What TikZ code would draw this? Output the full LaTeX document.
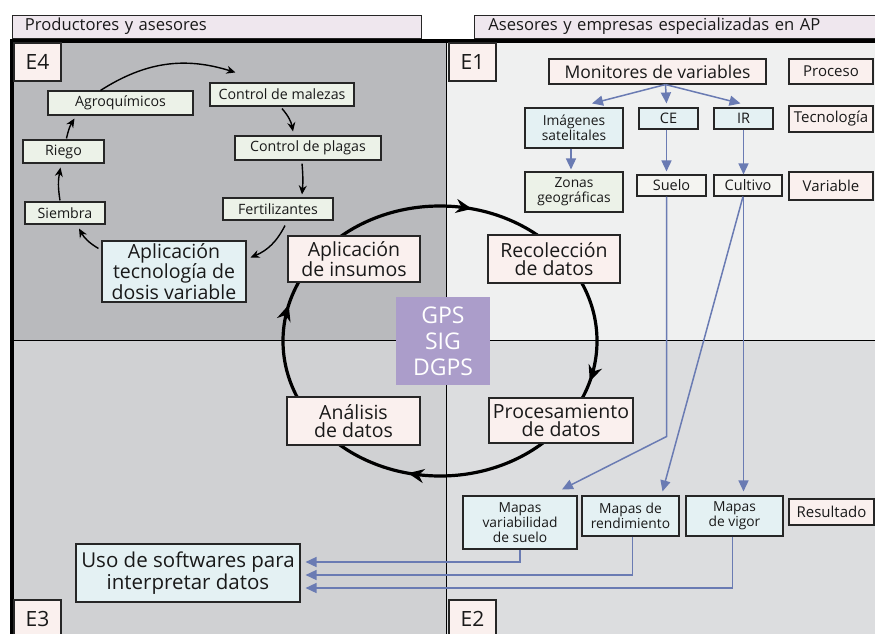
\documentclass[tikz,border=0pt]{standalone}
\usepackage{fontspec}
\setmainfont{Open Sans}
\usetikzlibrary{arrows.meta,decorations.markings}

\definecolor{headfill}{HTML}{EFE7EE}
\definecolor{darkq}{HTML}{B9BABD}
\definecolor{lightq}{HTML}{EFF0F0}
\definecolor{midq}{HTML}{D0D1D3}
\definecolor{paleq}{HTML}{DCDDDF}
\definecolor{pinkfill}{HTML}{FAF0EE}
\definecolor{cyanfill}{HTML}{E4F1F3}
\definecolor{greenfill}{HTML}{ECF2E8}
\definecolor{whitefill}{HTML}{F4F4F1}
\definecolor{gpsfill}{HTML}{AB9DCA}
\definecolor{linkblue}{HTML}{6A7BB3}

\tikzset{
  box/.style={draw=black!85, line width=1.1pt, inner sep=0pt, align=center, text=black!90},
  headbox/.style={box, line width=0.9pt, fill=headfill, anchor=west, minimum height=23pt, font=\fontsize{16.6}{17}\selectfont},
  tagbox/.style={box, fill=pinkfill, minimum width=47pt, minimum height=38pt, font=\fontsize{21}{21}\selectfont},
  smallbox/.style={box, fill=greenfill, minimum height=23pt, font=\fontsize{14.2}{14}\selectfont},
  stagebox/.style={box, fill=pinkfill, font=\fontsize{19.5}{18}\selectfont},
  techbox/.style={box, fill=cyanfill, font=\fontsize{13.8}{15}\selectfont},
  keybox/.style={box, fill=pinkfill, minimum width=84pt, font=\fontsize{15}{15}\selectfont},
  smallarrow/.style={->, >={Stealth[length=9pt,width=8pt]}, line width=1.4pt},
  bluelink/.style={->, >={Triangle[length=11pt,width=10pt]}, draw=linkblue, line width=1.5pt},
  bigloop/.style={line width=3.2pt, postaction={decorate}, decoration={markings,
    mark=at position 0.045 with {\arrow{Stealth[length=16pt,width=14pt]}},
    mark=at position 0.285 with {\arrow{Stealth[length=16pt,width=14pt]}},
    mark=at position 0.54 with {\arrow{Stealth[length=16pt,width=14pt]}},
    mark=at position 0.785 with {\arrow{Stealth[length=16pt,width=14pt]}}}}
}

\begin{document}
\begin{tikzpicture}[x=1pt, y=-1pt]
  \useasboundingbox (0,0) rectangle (875,634);

  % cuadrantes
  \fill[darkq] (12,40) rectangle (446,340);
  \fill[lightq] (446,40) rectangle (876,340);
  \fill[midq] (12,340) rectangle (446,635);
  \fill[paleq] (446,340) rectangle (876,635);
  \draw[line width=0.9pt] (446.5,40) -- (446.5,635);
  \draw[line width=0.9pt] (12,340) -- (876,340);
  \draw[line width=3.2pt] (12,635) -- (12,41) -- (876,41);

  \node (prodhead) [headbox, minimum width=409pt, text width=404pt, align=left] at (12,26.5) {\hspace*{10pt}Productores y asesores};
  \node (asehead) [headbox, minimum width=420pt, text width=412pt, align=left] at (474,26.5) {\hspace*{10pt}Asesores y empresas especializadas en AP};

  \node (e4) [tagbox] at (37.5,62) {E4};
  \node (e1) [tagbox] at (472.5,62) {E1};
  \node (e3) [tagbox] at (37.5,619) {E3};
  \node (e2) [tagbox] at (472.5,619) {E2};

  % ciclo central
  \node (gps) [fill=gpsfill, text=white, align=center, minimum width=94pt, minimum height=88pt,
    font=\fontsize{23}{26}\selectfont] at (443,341) {GPS\\SIG\\DGPS};
  \draw[bigloop] ([xshift=-3pt]gps.center) ellipse [x radius=157, y radius=135];

  \node (insumos) [stagebox, minimum width=132pt, minimum height=46pt] at (354,259) {Aplicación\\de insumos};
  \node (recol) [stagebox, minimum width=132pt, minimum height=48pt] at (554,259) {Recolección\\de datos};
  \node (proces) [stagebox, minimum width=144pt, minimum height=45pt] at (561,420.5) {Procesamiento\\de datos};
  \node (analisis) [stagebox, minimum width=133pt, minimum height=48pt] at (353.5,421) {Análisis\\de datos};

  % E4
  \node (agro) [smallbox, minimum width=145pt, minimum height=24pt] at (120.5,103) {Agroquímicos};
  \node (malezas) [smallbox, minimum width=144pt] at (282,94.5) {Control de malezas};
  \node (plagas) [smallbox, minimum width=146pt, minimum height=24pt] at (308,148) {Control de plagas};
  \node (fert) [smallbox, minimum width=110pt, minimum height=22pt] at (278,209) {Fertilizantes};
  \node (siembra) [smallbox, minimum width=80pt, minimum height=22pt] at (65,213) {Siembra};
  \node (riego) [smallbox, minimum width=81pt] at (63.5,151.5) {Riego};
  \node (apltec) [stagebox, fill=cyanfill, minimum width=144pt, minimum height=61pt] at (174,271.5) {Aplicación\\tecnología de\\dosis variable};

  \draw[smallarrow] ([xshift=-20pt]agro.north) to[bend left=25] ([xshift=26pt,yshift=10pt]malezas.north west);
  \draw[smallarrow] ([yshift=-2pt]malezas.south) to[bend left=15] ([xshift=-15pt,yshift=4pt]plagas.north);
  \draw[smallarrow] ([xshift=-6pt,yshift=-3pt]plagas.south) to[bend left=5] ([xshift=24pt,yshift=3pt]fert.north);
  \draw[smallarrow] ([xshift=7pt,yshift=-5pt]fert.south) to[bend left=20] ([xshift=4pt,yshift=14pt]apltec.east);
  \draw[smallarrow] ([xshift=-3pt,yshift=-8pt]apltec.north west) to[bend left=15] ([xshift=14pt,yshift=-4pt]siembra.south);
  \draw[smallarrow] ([xshift=-5pt,yshift=1pt]siembra.north) to[bend left=10] ([xshift=-3pt,yshift=-4pt]riego.south);
  \draw[smallarrow] ([xshift=3pt,yshift=1pt]riego.north) to[bend left=10] ([xshift=-46pt,yshift=-3pt]agro.south);

  % E1
  \node (monit) [stagebox, font=\fontsize{17.5}{17}\selectfont, minimum width=217pt, minimum height=25pt] at (657.5,71.5) {Monitores de variables};
  \node (proceso) [keybox, minimum height=25pt] at (831,71.5) {Proceso};
  \node (imag) [techbox, minimum width=98pt, minimum height=40pt] at (574,128) {Imágenes\\satelitales};
  \node (ce) [techbox, font=\fontsize{14.5}{14.5}\selectfont, minimum width=59pt, minimum height=21pt] at (668.5,118.5) {CE};
  \node (ir) [techbox, font=\fontsize{14.5}{14.5}\selectfont, minimum width=59pt, minimum height=21pt] at (743.5,118.5) {IR};
  \node (tecno) [keybox, minimum height=26pt] at (831,119) {Tecnología};
  \node (zonas) [techbox, fill=greenfill, minimum width=98pt, minimum height=40pt] at (574,192) {Zonas\\geográficas};
  \node (suelo) [techbox, fill=whitefill, font=\fontsize{14.5}{14.5}\selectfont, minimum width=69pt, minimum height=21pt] at (671.5,185.5) {Suelo};
  \node (cultivo) [techbox, fill=whitefill, font=\fontsize{14.5}{14.5}\selectfont, minimum width=68pt, minimum height=21pt] at (748,185.5) {Cultivo};
  \node (variable) [keybox, minimum height=28pt] at (831,186) {Variable};

  \draw[bluelink] ([xshift=8pt]monit.south) -- ([xshift=18pt,yshift=4pt]imag.north);
  \draw[bluelink] ([xshift=8pt]monit.south) -- ([xshift=-2pt,yshift=4pt]ce.north);
  \draw[bluelink] ([xshift=8pt]monit.south) -- ([xshift=-3pt,yshift=4pt]ir.north);
  \draw[bluelink] ([xshift=-3pt]imag.south) -- ([xshift=-3pt,yshift=2pt]zonas.north);
  \draw[bluelink] ([xshift=-2pt]ce.south) -- ([xshift=-5pt,yshift=3pt]suelo.north);
  \draw[bluelink] (ir.south) -- (ir.south |- cultivo.north);

  % E2
  \node (mvar) [techbox, minimum width=114pt, minimum height=53pt] at (520,522.5) {Mapas\\variabilidad\\de suelo};
  \node (mrend) [techbox, minimum width=97pt, minimum height=40pt] at (630.5,516) {Mapas de\\rendimiento};
  \node (mvigor) [techbox, minimum width=97pt, minimum height=40pt] at (734.5,516) {Mapas\\de vigor};
  \node (result) [keybox, minimum width=85pt, minimum height=26pt] at (831.5,512) {Resultado};

  \draw[bluelink] ([xshift=-5pt]suelo.south) -- ++(0,240) -- ([xshift=42pt,yshift=6pt]mvar.north);
  \draw[bluelink] ([xshift=-5pt]cultivo.south) -- ([xshift=32pt,yshift=4pt]mrend.north);
  \draw[bluelink] (ir.south |- cultivo.south) -- ([yshift=4pt]ir.south |- mvigor.north);

  % E3
  \node (softw) [stagebox, fill=cyanfill, font=\fontsize{20.5}{19}\selectfont, minimum width=224pt, minimum height=58pt] at (188,573) {Uso de softwares para\\interpretar datos};

  \draw[bluelink] (mvar.south) |- ([xshift=5pt,yshift=11pt]softw.east);
  \draw[bluelink] ([xshift=2pt]mrend.south) |- ([xshift=5pt,yshift=-2pt]softw.east);
  \draw[bluelink] ([xshift=-2pt]mvigor.south) |- ([xshift=5pt,yshift=-15pt]softw.east);
\end{tikzpicture}
\end{document}
